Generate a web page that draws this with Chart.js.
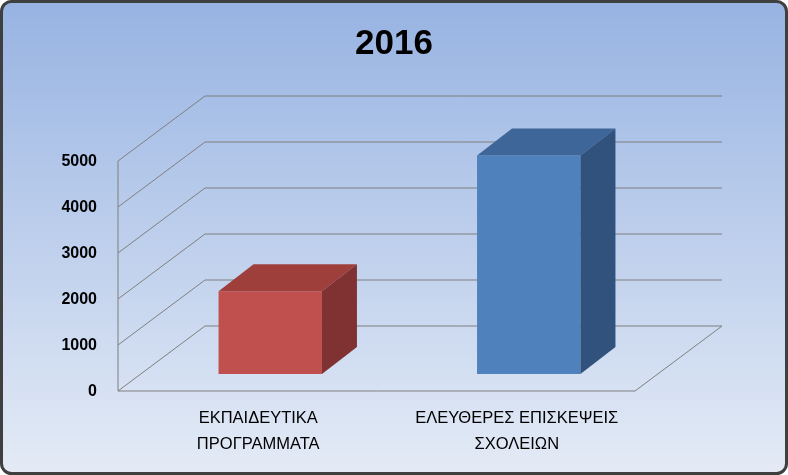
<!DOCTYPE html>
<html>
<head>
<meta charset="utf-8">
<script src="https://cdn.jsdelivr.net/npm/chart.js@4"></script>
<style>
  html, body { margin: 0; padding: 0; background: #fff; }
  #wrap { width: 788px; height: 475px; }
</style>
</head>
<body>
<div id="wrap"><canvas id="chart" width="788" height="475"></canvas></div>
<script>
const categories = [["ΕΚΠΑΙΔΕΥΤΙΚΑ", "ΠΡΟΓΡΑΜΜΑΤΑ"], ["ΕΛΕΥΘΕΡΕΣ ΕΠΙΣΚΕΨΕΙΣ", "ΣΧΟΛΕΙΩΝ"]];
const visitors = [1800, 4750];
const yTicks = [0, 1000, 2000, 3000, 4000, 5000];
const chartTitle = "2016";

const fronts = ["#c0504d", "#4f81bd"];
const tops = ["#9e3f3c", "#3e6698"];
const sides = ["#7f3231", "#30527c"];

// bars sit in a plane between the front and back walls
const FRONT = { dx: -23, dy: 17 };   // from bar plane to front plane
const BACK = { dx: 64, dy: -48 };    // from bar plane to back wall
const BAR_DEPTH = { dx: 35, dy: -27 };

const scene3d = {
  id: 'scene3d',
  beforeDraw(chart) {
    const ctx = chart.ctx;
    const W = chart.width, H = chart.height;
    ctx.save();
    const g = ctx.createLinearGradient(0, 0, 0, H);
    g.addColorStop(0, '#97b3e2');
    g.addColorStop(1, '#e4ebf6');
    ctx.fillStyle = g;
    ctx.beginPath();
    ctx.roundRect(1.5, 1.5, W - 3, H - 3, 10);
    ctx.fill();
    ctx.lineWidth = 3;
    ctx.strokeStyle = '#3f3f3f';
    ctx.stroke();

    const y = chart.scales.y, a = chart.chartArea;
    ctx.lineWidth = 1;
    ctx.strokeStyle = '#7f7f7f';
    const fl = a.left + FRONT.dx, fr = a.right + FRONT.dx;
    const bl = a.left + BACK.dx, br = a.right + BACK.dx;
    ctx.beginPath();
    yTicks.forEach(v => {
      const py = y.getPixelForValue(v);
      ctx.moveTo(fl, py + FRONT.dy);
      ctx.lineTo(bl, py + BACK.dy);
      ctx.lineTo(br, py + BACK.dy);
    });
    const p0 = y.getPixelForValue(0), pMax = y.getPixelForValue(yTicks[yTicks.length - 1]);
    ctx.moveTo(fl, p0 + FRONT.dy); ctx.lineTo(fl, pMax + FRONT.dy);
    ctx.moveTo(fl, p0 + FRONT.dy); ctx.lineTo(fr, p0 + FRONT.dy);
    ctx.lineTo(br, p0 + BACK.dy);
    ctx.stroke();

    ctx.fillStyle = '#000';
    ctx.font = 'bold 16px "Liberation Sans", Arial, sans-serif';
    ctx.textAlign = 'right';
    ctx.textBaseline = 'middle';
    yTicks.forEach(v => ctx.fillText(String(v), fl - 21, y.getPixelForValue(v) + FRONT.dy + 1));

    ctx.font = 'bold 35px "Liberation Sans", Arial, sans-serif';
    ctx.textAlign = 'center';
    ctx.fillText(chartTitle, 394, 44);
    ctx.restore();
  },
  afterDatasetsDraw(chart) {
    const ctx = chart.ctx;
    const meta = chart.getDatasetMeta(0);
    const base = chart.scales.y.getPixelForValue(0);
    ctx.save();
    meta.data.forEach((bar, i) => {
      const l = bar.x - bar.width / 2, r = bar.x + bar.width / 2, t = bar.y;
      const d = BAR_DEPTH;
      ctx.fillStyle = tops[i];
      ctx.beginPath();
      ctx.moveTo(l, t); ctx.lineTo(l + d.dx, t + d.dy); ctx.lineTo(r + d.dx, t + d.dy); ctx.lineTo(r, t);
      ctx.closePath(); ctx.fill();
      ctx.fillStyle = sides[i];
      ctx.beginPath();
      ctx.moveTo(r, t); ctx.lineTo(r + d.dx, t + d.dy); ctx.lineTo(r + d.dx, base + d.dy); ctx.lineTo(r, base);
      ctx.closePath(); ctx.fill();
    });
    ctx.fillStyle = '#000';
    ctx.font = '16.5px "Liberation Sans", Arial, sans-serif';
    ctx.textAlign = 'center';
    ctx.textBaseline = 'middle';
    meta.data.forEach((bar, i) => {
      categories[i].forEach((line, k) => ctx.fillText(line, bar.x - 12, 418 + k * 26));
    });
    ctx.restore();
  }
};

new Chart(document.getElementById('chart'), {
  type: 'bar',
  data: {
    labels: categories.map(c => c.join(' ')),
    datasets: [{
      data: visitors,
      backgroundColor: fronts,
      borderWidth: 0,
      categoryPercentage: 0.8,
      barPercentage: 0.5,
    }]
  },
  options: {
    responsive: false,
    animation: false,
    devicePixelRatio: 1,
    layout: { padding: { left: 141, right: 130, top: 144, bottom: 101 } },
    scales: {
      x: { display: false },
      y: { display: false, min: 0, max: 5000 }
    },
    plugins: { legend: { display: false }, title: { display: false }, tooltip: { enabled: false } }
  },
  plugins: [scene3d]
});
</script>
</body>
</html>
